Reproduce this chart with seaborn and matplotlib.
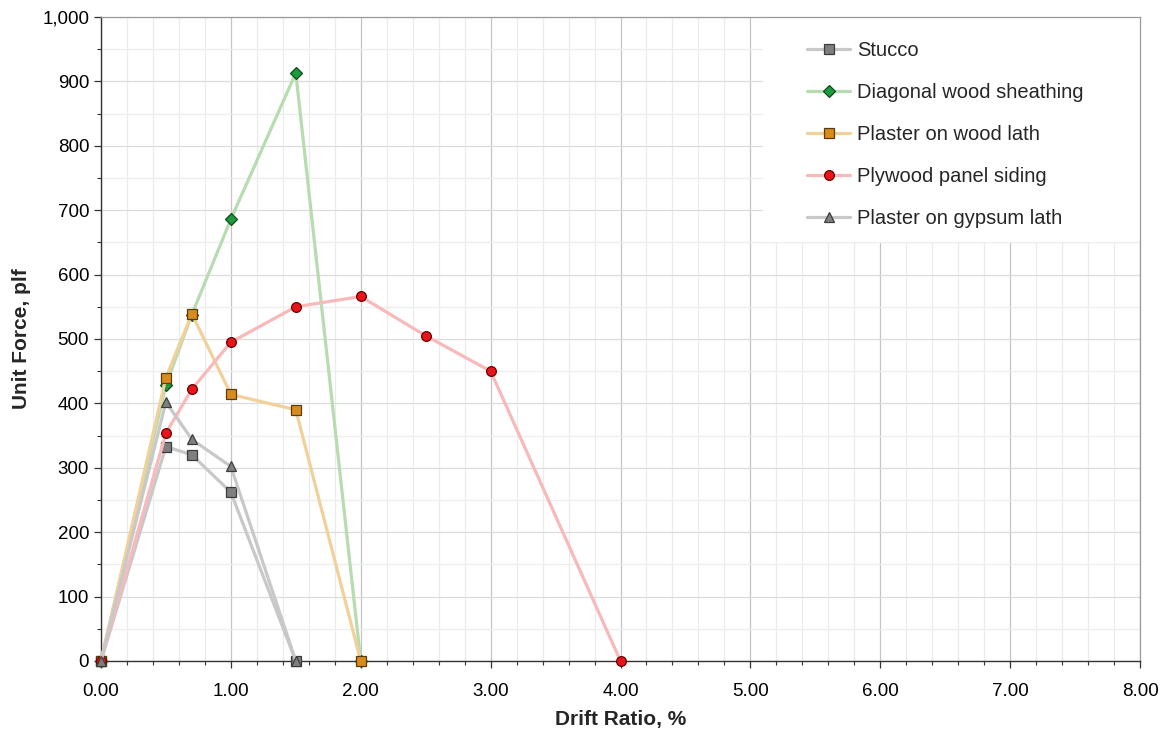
import matplotlib
matplotlib.use('Agg')
import matplotlib.pyplot as plt
import seaborn as sns
from matplotlib.patches import Rectangle
from matplotlib.ticker import MultipleLocator, FuncFormatter

# --- dados ---
stucco_x = [0.0, 0.5, 0.7, 1.0, 1.5]
stucco_y = [0, 333, 320, 262, 0]

diagonal_x = [0.0, 0.5, 0.7, 1.0, 1.5, 2.0]
diagonal_y = [0, 428, 538, 686, 913, 0]

wood_lath_x = [0.0, 0.5, 0.7, 1.0, 1.5, 2.0]
wood_lath_y = [0, 440, 539, 414, 390, 0]

plywood_x = [0.0, 0.5, 0.7, 1.0, 1.5, 2.0, 2.5, 3.0, 4.0]
plywood_y = [0, 354, 422, 495, 550, 566, 505, 450, 0]

gypsum_x = [0.0, 0.5, 0.7, 1.0, 1.5]
gypsum_y = [0, 402, 344, 302, 0]

labels = ['Stucco', 'Diagonal wood sheathing', 'Plaster on wood lath',
          'Plywood panel siding', 'Plaster on gypsum lath']

sns.set_style('white')
plt.rcParams['font.family'] = ['Liberation Sans', 'DejaVu Sans']

fig = plt.figure(figsize=(11.7, 7.29), dpi=100)
ax = fig.add_axes([0.0863, 0.0933, 0.8881, 0.8834])

series = [
    (stucco_x, stucco_y, '#c8c8c8', 's', '#7f7f7f', '#3c3c3c'),
    (diagonal_x, diagonal_y, '#b6dcb0', 'D', '#1e9a3c', '#0f4a1c'),
    (wood_lath_x, wood_lath_y, '#f2d099', 's', '#d98c1e', '#5a3c0c'),
    (plywood_x, plywood_y, '#f7b9b9', 'o', '#e8161c', '#6a0000'),
    (gypsum_x, gypsum_y, '#c8c8c8', '^', '#7f7f7f', '#3c3c3c'),
]

for (xs, ys, lc, mk, mfc, mec), lab in zip(series, labels):
    ms = 6.0 if mk == 'D' else 7.0
    sns.lineplot(x=xs, y=ys, ax=ax, color=lc, lw=2.3, marker=mk, markersize=ms,
                 markerfacecolor=mfc, markeredgecolor=mec, markeredgewidth=0.9,
                 label=lab, sort=False, zorder=3, clip_on=False)

ax.set_xlim(0, 8)
ax.set_ylim(0, 1000)
ax.xaxis.set_major_locator(MultipleLocator(1))
ax.xaxis.set_minor_locator(MultipleLocator(0.2))
ax.yaxis.set_major_locator(MultipleLocator(100))
ax.yaxis.set_minor_locator(MultipleLocator(50))
ax.xaxis.set_major_formatter(FuncFormatter(lambda v, p: f'{v:.2f}'))
ax.yaxis.set_major_formatter(FuncFormatter(lambda v, p: f'{v:,.0f}'))

ax.grid(True, which='major', axis='x', color='#c4c4c4', lw=0.9)
ax.grid(True, which='minor', axis='x', color='#ebebeb', lw=0.9)
ax.grid(True, which='major', axis='y', color='#dcdcdc', lw=0.9)
ax.grid(True, which='minor', axis='y', color='#ededed', lw=0.9)
ax.set_axisbelow(True)

for s in ['left', 'bottom']:
    ax.spines[s].set_color('#333333')
    ax.spines[s].set_linewidth(1.0)
for s in ['top', 'right']:
    ax.spines[s].set_color('#9a9a9a')
    ax.spines[s].set_linewidth(0.9)

ax.tick_params(which='major', direction='out', length=5, width=0.9, color='#333333',
               labelsize=13.5, labelcolor='black', bottom=True, left=True)
ax.tick_params(which='minor', direction='out', length=3, width=0.8, color='#333333',
               bottom=True, left=True)
ax.tick_params(axis='x', which='major', pad=11)

ax.set_xlabel('Drift Ratio, %', fontsize=15, fontweight='bold', labelpad=7)
ax.set_ylabel('Unit Force, plf', fontsize=15, fontweight='bold', labelpad=8)

# fundo branco da legenda
ax.add_patch(Rectangle((0.637, 0.651), 0.363, 0.349, transform=ax.transAxes,
                       facecolor='white', edgecolor='none', zorder=2.5))

leg = ax.legend(loc='upper left', bbox_to_anchor=(0.6795, 0.963), borderaxespad=0.0,
                fontsize=14.5, frameon=False, handlelength=2.15,
                handletextpad=0.35, labelspacing=1.15, borderpad=0.0)
leg.set_zorder(5)

plt.savefig('out.png', dpi=100)
plt.close()
